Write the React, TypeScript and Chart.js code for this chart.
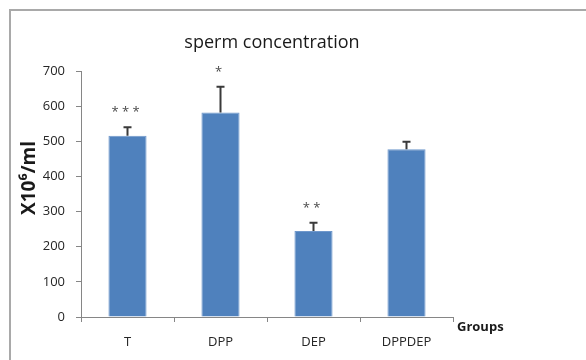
import React, { useEffect, useRef } from "react";
import { Chart, registerables } from "chart.js";

Chart.register(...registerables);

const categories = ["T", "DPP", "DEP", "DPPDEP"];
const meanValues = [516, 582, 245, 477];
const errorValues = [24, 73, 23, 22];
const significance = ["***", "*", "**", ""];
const yTicks = [0, 100, 200, 300, 400, 500, 600, 700];

const FONT = "'Open Sans', 'Noto Sans', sans-serif";

const annotPlugin = {
  id: "annot",
  beforeDraw(chart: any) {
    const ctx = chart.ctx;
    ctx.save();
    ctx.strokeStyle = "#a9a9a9";
    ctx.lineWidth = 2;
    ctx.beginPath();
    ctx.moveTo(10, 360);
    ctx.lineTo(10, 10);
    ctx.lineTo(586, 10);
    ctx.stroke();
    ctx.restore();
  },
  afterDatasetsDraw(chart: any) {
    const ctx = chart.ctx;
    const y = chart.scales.y;
    const meta = chart.getDatasetMeta(0);
    ctx.save();
    meta.data.forEach((bar: any, i: number) => {
      const x = bar.x;
      const top = y.getPixelForValue(meanValues[i]);
      const errTop = y.getPixelForValue(meanValues[i] + errorValues[i]);
      ctx.strokeStyle = "#3a3a3a";
      ctx.lineWidth = 2;
      ctx.beginPath();
      ctx.moveTo(x, top);
      ctx.lineTo(x, errTop);
      ctx.moveTo(x - 4, errTop);
      ctx.lineTo(x + 4, errTop);
      ctx.stroke();
      if (significance[i]) {
        ctx.fillStyle = "#4a4a4a";
        ctx.font = `13px ${FONT}`;
        ctx.textAlign = "center";
        ctx.textBaseline = "middle";
        ctx.fillText(significance[i].split("").join(" "), x - 2, errTop - 15);
      }
    });
    ctx.restore();
  },
  afterDraw(chart: any) {
    const ctx = chart.ctx;
    ctx.save();
    ctx.fillStyle = "#1a1a1a";
    ctx.textAlign = "center";
    ctx.textBaseline = "middle";
    ctx.font = `18px ${FONT}`;
    ctx.fillText("sperm concentration", 272, 43);
    ctx.font = `bold 13px ${FONT}`;
    ctx.textAlign = "left";
    ctx.fillText("Groups", 457, 327);
    ctx.translate(30, 178);
    ctx.rotate(-Math.PI / 2);
    ctx.textAlign = "center";
    ctx.font = `bold 19px ${FONT}`;
    ctx.fillText("X10\u2076/ml", 0, 0);
    ctx.restore();
  },
};

export default function App() {
  const ref = useRef<HTMLCanvasElement>(null);
  useEffect(() => {
    document.body.style.margin = "0";
    const chart = new Chart(ref.current as HTMLCanvasElement, {
      type: "bar",
      data: {
        labels: categories,
        datasets: [
          {
            data: meanValues,
            backgroundColor: "#4F81BD",
            borderColor: "#6f98cc",
            borderWidth: 1,
            barPercentage: 0.41,
            categoryPercentage: 1,
          },
        ],
      },
      options: {
        animation: false,
        responsive: false,
        layout: { padding: { left: 0, top: 71, right: 133, bottom: 0 } },
        plugins: {
          legend: { display: false },
          tooltip: { enabled: false },
          title: { display: false },
        },
        scales: {
          x: {
            afterFit: (s: any) => {
              s.height = 43;
            },
            grid: {
              offset: true,
              drawOnChartArea: false,
              drawTicks: true,
              tickLength: 5,
              color: "#868686",
            },
            border: { color: "#868686" },
            ticks: {
              color: "#262626",
              font: { size: 13, family: FONT },
              padding: 12,
            },
          },
          y: {
            min: 0,
            max: 700,
            afterFit: (s: any) => {
              s.width = 81;
            },
            afterBuildTicks: (s: any) => {
              s.ticks = yTicks.map((v) => ({ value: v }));
            },
            grid: {
              drawOnChartArea: false,
              drawTicks: true,
              tickLength: 5,
              color: "#868686",
            },
            border: { color: "#868686" },
            ticks: {
              color: "#262626",
              font: { size: 13, family: FONT },
              padding: 11,
            },
          },
        },
      },
      plugins: [annotPlugin],
    } as any);
    return () => chart.destroy();
  }, []);
  return (
    <div style={{ width: 586, height: 360 }}>
      <canvas ref={ref} width={586} height={360} style={{ display: "block" }} />
    </div>
  );
}
